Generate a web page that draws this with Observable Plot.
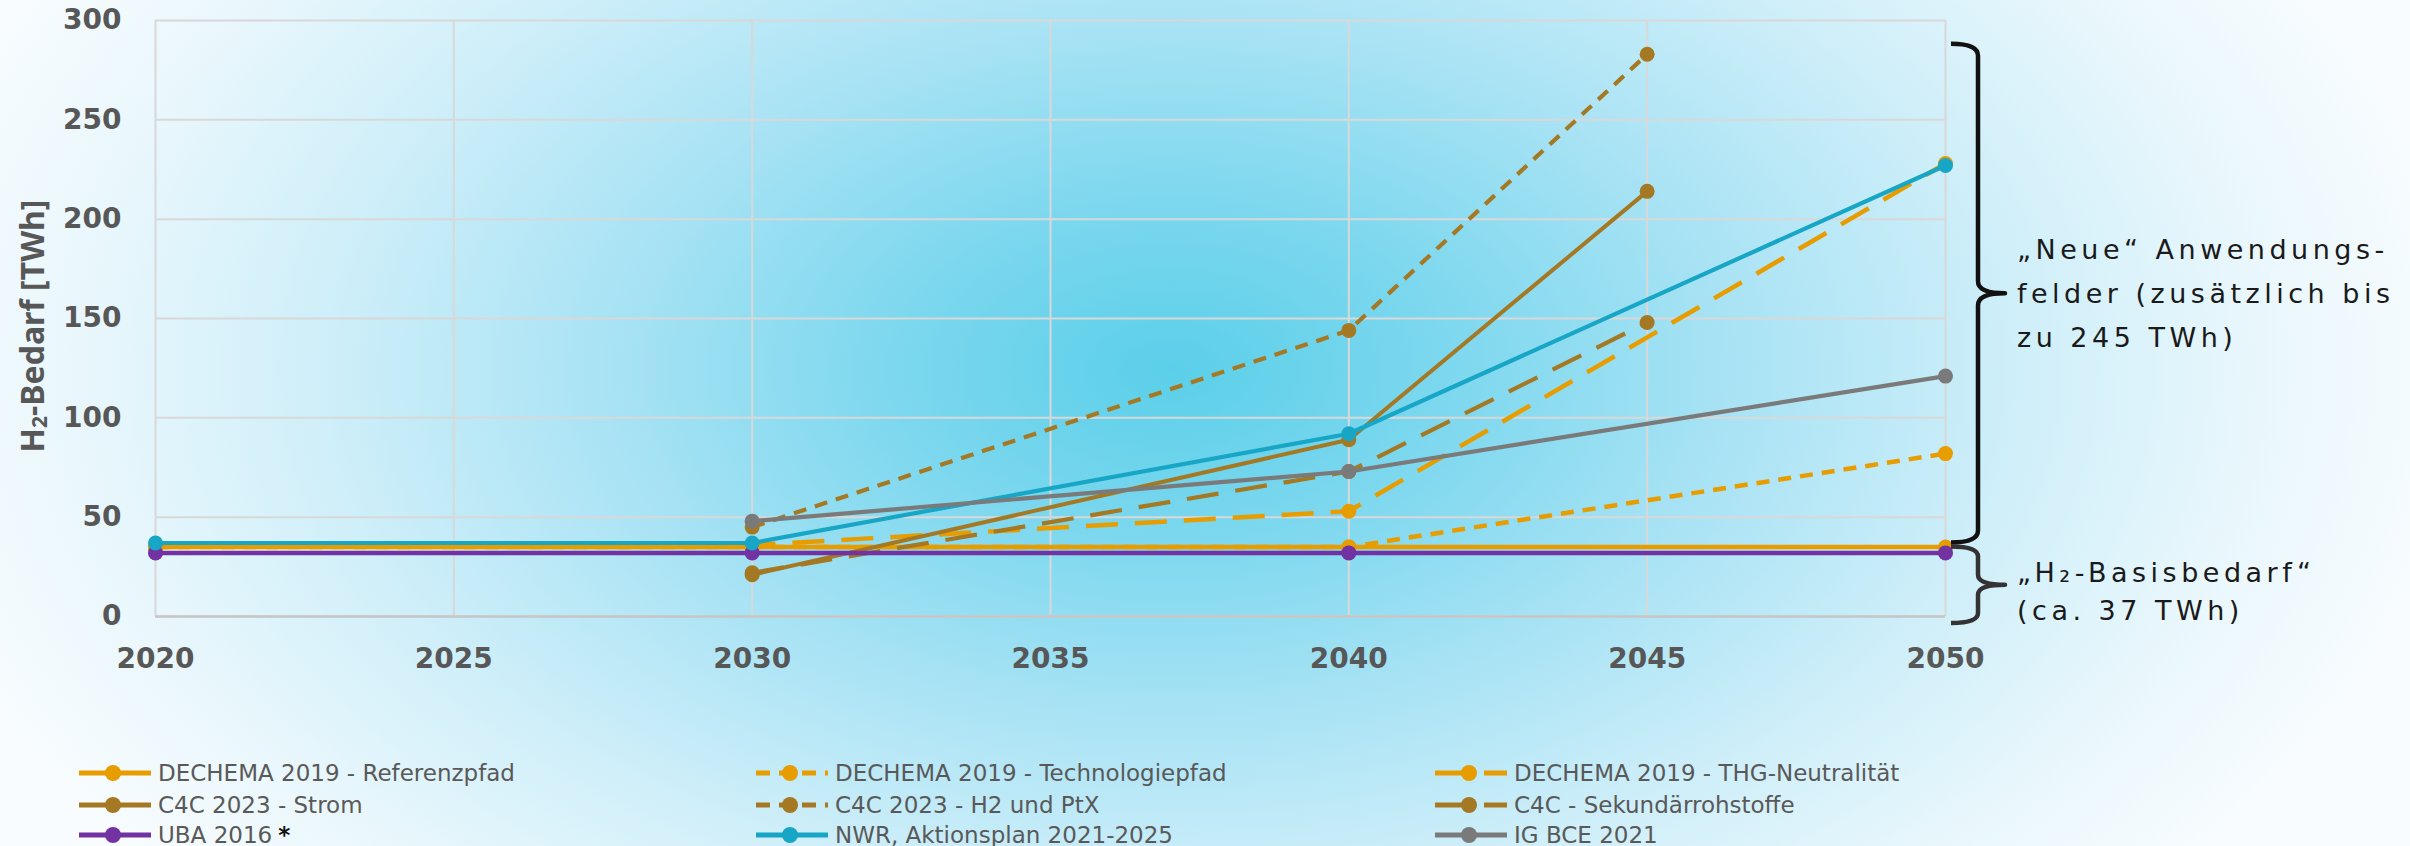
<!DOCTYPE html>
<html>
<head>
<meta charset="utf-8">
<script src="https://cdn.jsdelivr.net/npm/d3@7"></script>
<script src="https://cdn.jsdelivr.net/npm/@observablehq/plot@0.6"></script>
<style>
  html, body { margin: 0; padding: 0; }
  body {
    width: 2410px; height: 846px; overflow: hidden; position: relative;
    background:
      radial-gradient(ellipse 1300px 800px at 1170px 370px,
        #5bcfe9 0%, #7ad7ee 20%, #a6e2f4 42%, #cdeef9 64%, #e9f7fc 84%, #f8fcfe 100%);
    font-family: "DejaVu Sans", sans-serif;
  }
  #chart { position: absolute; left: 0; top: 0; }
  #legend { position: absolute; left: 0; top: 0; width: 2410px; height: 846px; pointer-events: none; }
  .lg-item { position: absolute; display: flex; align-items: center; height: 30px;
    font-family: "DejaVu Sans", sans-serif; font-size: 23px; color: #595959; white-space: nowrap; }
  .lg-item svg { display: block; margin-right: 7px; }
</style>
</head>
<body>
<div id="chart"></div>
<div id="legend"></div>
<script>
// ---------- data ----------
const years = [2020, 2030, 2040, 2045, 2050];
const seriesNames = [
  "DECHEMA 2019 - Referenzpfad",
  "DECHEMA 2019 - Technologiepfad",
  "DECHEMA 2019 - THG-Neutralität",
  "C4C 2023 - Strom",
  "C4C 2023 - H2 und PtX",
  "C4C - Sekundärrohstoffe",
  "UBA 2016",
  "NWR, Aktionsplan 2021-2025",
  "IG BCE 2021"
];
const dechemaReferenz    = [35, 35, 35, null, 35];
const dechemaTechnologie = [35, 35, 35, null, 82];
const dechemaTHG         = [35, 36, 53, null, 228];
const c4cStrom           = [null, 21, 89, 214, null];
const c4cH2PtX           = [null, 45, 144, 283, null];
const c4cSekundaer       = [null, 22, 73, 148, null];
const uba2016            = [32, 32, 32, null, 32];
const nwrAktionsplan     = [37, 37, 92, null, 227];
const igbce2021          = [null, 48, 73, null, 121];
const xTicks = [2020, 2025, 2030, 2035, 2040, 2045, 2050];
const yTicks = [0, 50, 100, 150, 200, 250, 300];
// annotation brackets (in TWh)
const bracketTop    = [288, 35];
const bracketBottom = [37, -3.5];
const bracketLines  = [["„Neue“ Anwendungs-", "felder (zusätzlich bis", "zu 245 TWh)"], ["„H₂-Basisbedarf“", "(ca. 37 TWh)"]];

// ---------- styles ----------
const ORANGE = "#e79c00", BROWN = "#a57823", PURPLE = "#7232a2", TEAL = "#17a6c6", GRAY = "#7a7a7a";
const SHORT = "13,9", LONG = "32,17";
const seriesValues = [dechemaReferenz, dechemaTechnologie, dechemaTHG, c4cStrom, c4cH2PtX, c4cSekundaer, uba2016, nwrAktionsplan, igbce2021];
const seriesStyle = [
  {color: ORANGE, dash: null, w: 4.5},
  {color: ORANGE, dash: SHORT, w: 4.5},
  {color: ORANGE, dash: LONG, w: 4.5},
  {color: BROWN, dash: null, w: 4},
  {color: BROWN, dash: SHORT, w: 4.2},
  {color: BROWN, dash: LONG, w: 4.2},
  {color: PURPLE, dash: null, w: 4.5},
  {color: TEAL, dash: null, w: 4.2},
  {color: GRAY, dash: null, w: 4.2}
];

const series = seriesNames.map((name, i) => ({
  name, ...seriesStyle[i],
  data: years.map((year, j) => ({series: name, year, value: seriesValues[i][j]})).filter(d => d.value != null)
}));

const marks = [
  Plot.ruleX(xTicks, {stroke: "#d8d8d8", strokeWidth: 2}),
  Plot.ruleY(yTicks, {stroke: "#d8d8d8", strokeWidth: 2}),
  Plot.ruleY([0], {stroke: "#c6c6c6", strokeWidth: 2.5}),
  ...series.flatMap(s => [
    Plot.line(s.data, {x: "year", y: "value", stroke: s.color, strokeWidth: s.w,
      strokeDasharray: s.dash || undefined, strokeLinecap: "butt", strokeLinejoin: "round"}),
    Plot.dot(s.data, {x: "year", y: "value", r: 7.5, fill: s.color, stroke: null})
  ]),
  Plot.axisX(xTicks, {tickSize: 0, tickPadding: 32, label: null, tickFormat: d => String(d),
    fontSize: 28, fontWeight: "bold", fontFamily: "DejaVu Sans", fill: "#575757"}),
  Plot.axisY(yTicks, {tickSize: 0, tickPadding: 34, label: null,
    fontSize: 28, fontWeight: "bold", fontFamily: "DejaVu Sans", fill: "#575757"})
];

const plot = Plot.plot({
  width: 2410,
  height: 700,
  marginLeft: 155,
  marginRight: 465,
  marginTop: 20,
  marginBottom: 84,
  x: {domain: [2020, 2050]},
  y: {domain: [0, 300]},
  style: {background: "transparent", overflow: "visible"},
  marks
});
document.getElementById("chart").appendChild(plot);

// ---------- annotations via scales ----------
const svg = d3.select(plot);
const xs = plot.scale("x"), ys = plot.scale("y");
const xRight = xs.apply(2050);

// y-axis title
const yMid = (ys.apply(0) + ys.apply(300)) / 2;
const title = svg.append("text")
  .attr("transform", `translate(31,${yMid + 8}) rotate(-90)`)
  .attr("text-anchor", "middle").attr("dominant-baseline", "central")
  .attr("font-family", "'Noto Sans', sans-serif").attr("font-weight", "bold")
  .attr("font-size", 32).attr("fill", "#575757");
title.append("tspan").text("H");
title.append("tspan").attr("font-size", 21).attr("dy", 8).text("2");
title.append("tspan").attr("dy", -8).text("-Bedarf [TWh]");

// brackets
bracketTop.forEach((top, i) => {
  const y0 = ys.apply(top), y1 = ys.apply(bracketBottom[i]);
  const ym = (y0 + y1) / 2;
  const x0 = xRight + 6, x1 = xRight + 33, x2 = xRight + 60;
  const r = i === 0 ? 12 : 10;
  const d = `M${x0},${y0} Q${x1},${y0} ${x1},${y0 + r} L${x1},${ym - r} Q${x1},${ym} ${x2},${ym} ` +
            `Q${x1},${ym} ${x1},${ym + r} L${x1},${y1 - r} Q${x1},${y1} ${x0},${y1}`;
  svg.append("path").attr("d", d).attr("fill", "none")
    .attr("stroke", i === 0 ? "#111" : "#333").attr("stroke-width", 4.5)
    .attr("stroke-linejoin", "round");
  const lines = bracketLines[i];
  const pitch = i === 0 ? 44 : 38;
  const shift = i === 0 ? 10 : 16;
  const t = svg.append("text")
    .attr("text-anchor", "start")
    .attr("font-family", "'DejaVu Sans', sans-serif").attr("font-size", 27)
    .attr("letter-spacing", "4.5px").attr("fill", "#1a1a1a");
  lines.forEach((ln, k) => {
    t.append("tspan").attr("x", xRight + 72)
      .attr("y", ym + (k - (lines.length - 1) / 2) * pitch + shift)
      .text(ln);
  });
});

// ---------- legend ----------
const legendCols = [79, 756, 1435];
const legendRows = [773, 805, 835];
const legend = d3.select("#legend");
series.forEach((s, i) => {
  const c = i % 3, r = Math.floor(i / 3);
  const item = legend.append("div").attr("class", "lg-item")
    .style("left", legendCols[c] + "px").style("top", (legendRows[r] - 15) + "px");
  const sw = item.append("svg").attr("width", 72).attr("height", 30);
  sw.append("line").attr("x1", 0).attr("x2", 72).attr("y1", 15).attr("y2", 15)
    .attr("stroke", s.color).attr("stroke-width", 5)
    .attr("stroke-dasharray", s.dash === SHORT ? "14,9" : s.dash === LONG ? "32,17" : null);
  sw.append("ellipse").attr("cx", 34).attr("cy", 15).attr("rx", 8).attr("ry", 8).attr("fill", s.color);
  item.append("span").text(s.name);
  if (s.name === "UBA 2016") item.append("span").style("color", "#111").style("margin-left", "6px").style("font-weight", "bold").text("*");
});
</script>
</body>
</html>
